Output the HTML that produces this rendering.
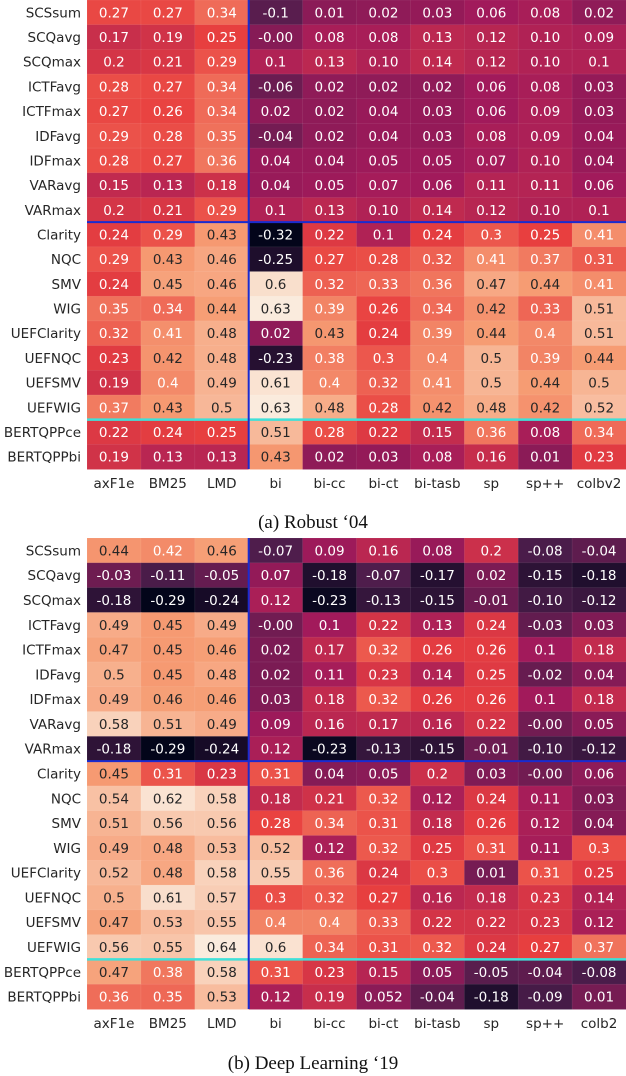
<!DOCTYPE html>
<html><head><meta charset="utf-8">
<style>
html,body{margin:0;padding:0;background:#fff;}
svg{display:block;}
</style></head>
<body>
<svg id="fig" width="626" height="1076" xmlns="http://www.w3.org/2000/svg"></svg>
<script>
const rowLabels = ["SCSsum","SCQavg","SCQmax","ICTFavg","ICTFmax","IDFavg","IDFmax","VARavg","VARmax","Clarity","NQC","SMV","WIG","UEFClarity","UEFNQC","UEFSMV","UEFWIG","BERTQPPce","BERTQPPbi"];
const colsA = ["axF1e","BM25","LMD","bi","bi-cc","bi-ct","bi-tasb","sp","sp++","colbv2"];
const colsB = ["axF1e","BM25","LMD","bi","bi-cc","bi-ct","bi-tasb","sp","sp++","colb2"];
const valuesA = [
"0.27 0.27 0.34 -0.1 0.01 0.02 0.03 0.06 0.08 0.02",
"0.17 0.19 0.25 -0.00 0.08 0.08 0.13 0.12 0.10 0.09",
"0.2 0.21 0.29 0.1 0.13 0.10 0.14 0.12 0.10 0.1",
"0.28 0.27 0.34 -0.06 0.02 0.02 0.02 0.06 0.08 0.03",
"0.27 0.26 0.34 0.02 0.02 0.04 0.03 0.06 0.09 0.03",
"0.29 0.28 0.35 -0.04 0.02 0.04 0.03 0.08 0.09 0.04",
"0.28 0.27 0.36 0.04 0.04 0.05 0.05 0.07 0.10 0.04",
"0.15 0.13 0.18 0.04 0.05 0.07 0.06 0.11 0.11 0.06",
"0.2 0.21 0.29 0.1 0.13 0.10 0.14 0.12 0.10 0.1",
"0.24 0.29 0.43 -0.32 0.22 0.1 0.24 0.3 0.25 0.41",
"0.29 0.43 0.46 -0.25 0.27 0.28 0.32 0.41 0.37 0.31",
"0.24 0.45 0.46 0.6 0.32 0.33 0.36 0.47 0.44 0.41",
"0.35 0.34 0.44 0.63 0.39 0.26 0.34 0.42 0.33 0.51",
"0.32 0.41 0.48 0.02 0.43 0.24 0.39 0.44 0.4 0.51",
"0.23 0.42 0.48 -0.23 0.38 0.3 0.4 0.5 0.39 0.44",
"0.19 0.4 0.49 0.61 0.4 0.32 0.41 0.5 0.44 0.5",
"0.37 0.43 0.5 0.63 0.48 0.28 0.42 0.48 0.42 0.52",
"0.22 0.24 0.25 0.51 0.28 0.22 0.15 0.36 0.08 0.34",
"0.19 0.13 0.13 0.43 0.02 0.03 0.08 0.16 0.01 0.23"];
const valuesB = [
"0.44 0.42 0.46 -0.07 0.09 0.16 0.08 0.2 -0.08 -0.04",
"-0.03 -0.11 -0.05 0.07 -0.18 -0.07 -0.17 0.02 -0.15 -0.18",
"-0.18 -0.29 -0.24 0.12 -0.23 -0.13 -0.15 -0.01 -0.10 -0.12",
"0.49 0.45 0.49 -0.00 0.1 0.22 0.13 0.24 -0.03 0.03",
"0.47 0.45 0.46 0.02 0.17 0.32 0.26 0.26 0.1 0.18",
"0.5 0.45 0.48 0.02 0.11 0.23 0.14 0.25 -0.02 0.04",
"0.49 0.46 0.46 0.03 0.18 0.32 0.26 0.26 0.1 0.18",
"0.58 0.51 0.49 0.09 0.16 0.17 0.16 0.22 -0.00 0.05",
"-0.18 -0.29 -0.24 0.12 -0.23 -0.13 -0.15 -0.01 -0.10 -0.12",
"0.45 0.31 0.23 0.31 0.04 0.05 0.2 0.03 -0.00 0.06",
"0.54 0.62 0.58 0.18 0.21 0.32 0.12 0.24 0.11 0.03",
"0.51 0.56 0.56 0.28 0.34 0.31 0.18 0.26 0.12 0.04",
"0.49 0.48 0.53 0.52 0.12 0.32 0.25 0.31 0.11 0.3",
"0.52 0.48 0.58 0.55 0.36 0.24 0.3 0.01 0.31 0.25",
"0.5 0.61 0.57 0.3 0.32 0.27 0.16 0.18 0.23 0.14",
"0.47 0.53 0.55 0.4 0.4 0.33 0.22 0.22 0.23 0.12",
"0.56 0.55 0.64 0.6 0.34 0.31 0.32 0.24 0.27 0.37",
"0.47 0.38 0.58 0.31 0.23 0.15 0.05 -0.05 -0.04 -0.08",
"0.36 0.35 0.53 0.12 0.19 0.052 -0.04 -0.18 -0.09 0.01"];
const rangeA = [[-0.30,0.62],[-0.32,0.63]];
const rangeB = [[-0.29,0.64],[-0.25,0.62]];

const NS="http://www.w3.org/2000/svg";
const svg=document.getElementById('fig');
const stops=[[0,[3,5,26]],[0.2,[76,29,75]],[0.4,[161,26,91]],[0.6,[232,63,63]],[0.8,[246,156,115]],[1,[250,235,221]]];
function rocket(t){t=Math.max(0,Math.min(1,t));for(let i=1;i<stops.length;i++){if(t<=stops[i][0]){const a=stops[i-1],b=stops[i];const f=(t-a[0])/(b[0]-a[0]);return a[1].map((v,k)=>Math.round(v+(b[1][k]-v)*f));}}return stops[5][1];}
function lum(c){const l=c.map(v=>{v/=255;return v<=0.03928?v/12.92:Math.pow((v+0.055)/1.055,2.4);});return 0.2126*l[0]+0.7152*l[1]+0.0722*l[2];}
function mk(tag,attrs,parent){const e=document.createElementNS(NS,tag);for(const k in attrs)e.setAttribute(k,attrs[k]);(parent||svg).appendChild(e);return e;}
const X0=87,X1=626,nC=10,nR=19,cw=(X1-X0)/nC;
function xPos(c){return X0+c*cw;}
function drawPanel(top,bottom,cols,vals,ranges,labelY,capY,caption,id){
  const g=mk('g',{});
  
  
  const rh=(bottom-top)/nR;
  const yPos=r=>top+r*rh;
  vals.forEach((row,r)=>{
    row.split(' ').forEach((s,c)=>{
      const v=parseFloat(s);const rg=ranges[c<3?0:1];
      const col=rocket((v-rg[0])/(rg[1]-rg[0]));
      const rect=mk('rect',{x:xPos(c),y:yPos(r),width:cw+0.5,height:rh+0.5,fill:`rgb(${col})`,stroke:'rgba(255,255,255,0.12)','stroke-width':0.6},g);
      
      
      const t=mk('text',{x:xPos(c)+cw/2,y:yPos(r)+rh/2+5,'text-anchor':'middle','font-size':'13.5',fill:lum(col)>0.408?'#262626':'#ffffff'},g);
      
      
      t.textContent=s;
    });
  });
  rowLabels.forEach((l,r)=>{
    const t=mk('text',{x:81,y:yPos(r)+rh/2+5,'text-anchor':'end','font-size':'13.5',fill:'#262626'});
    
    
    t.textContent=l;
  });
  cols.forEach((l,c)=>{
    const t=mk('text',{x:xPos(c)+cw/2,y:labelY,'text-anchor':'middle','font-size':'13.5',fill:'#262626'});
    
    
    t.textContent=l;
  });
  const h1=mk('line',{x1:X0,x2:X1,y1:yPos(9),y2:yPos(9),stroke:'#1a2bd0','stroke-width':2});
  
  
  const h2=mk('line',{x1:X0,x2:X1,y1:yPos(17),y2:yPos(17),stroke:'#40e0d8','stroke-width':2.5});
  
  
  const v1=mk('line',{x1:xPos(3),x2:xPos(3),y1:top,y2:bottom,stroke:'#1a2bd0','stroke-width':2});
  
  
  const cap=mk('text',{x:313,y:capY,'text-anchor':'middle','font-size':'19','font-family':'Liberation Serif, serif',fill:'#111'});
  
  
  cap.textContent=caption;
}
svg.setAttribute('font-family','DejaVu Sans, sans-serif');
drawPanel(0,469,colsA,valuesA,rangeA,488,528,"(a) Robust \u201804","robust04");
drawPanel(538,1009,colsB,valuesB,rangeB,1028,1069,"(b) Deep Learning \u201819","dl19");
</script>
</body></html>
